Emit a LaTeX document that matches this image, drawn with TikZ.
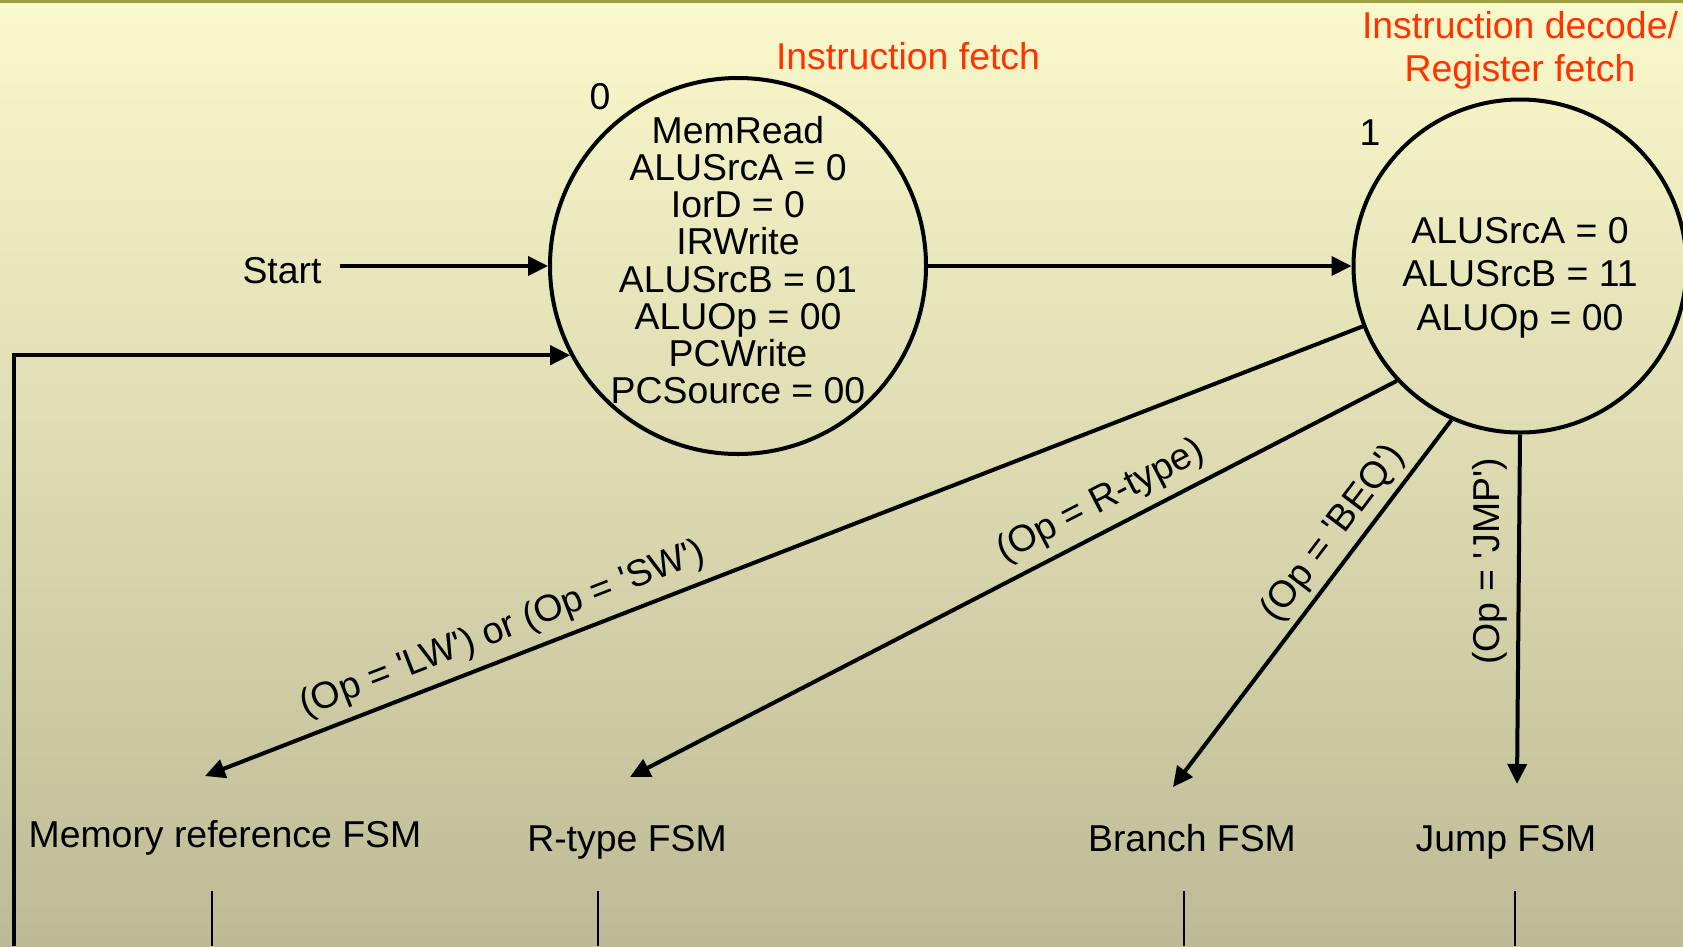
\documentclass[tikz,border=0pt]{standalone}
\usepackage{fontspec}
\setmainfont{Liberation Sans}
\usetikzlibrary{arrows.meta,positioning,calc}
\definecolor{bgtop}{RGB}{250,249,203}
\definecolor{bgbot}{RGB}{188,187,150}
\definecolor{ruleline}{RGB}{158,158,62}
\definecolor{phasered}{RGB}{255,51,0}
\newcommand{\apos}{\textquotesingle}

\begin{document}
\begin{tikzpicture}[
  x=1pt, y=-1pt,
  font=\fontsize{37.4}{37.2}\selectfont,
  state/.style={circle, draw, line width=4pt, align=center, inner sep=-9pt},
  txt/.style={inner sep=0pt, outer sep=0pt},
  phase/.style={txt, text=phasered, align=center},
  cond/.style={txt, sloped},
  arrow/.style={-{Triangle[length=20pt,width=19pt]}, line width=4pt},
  stub/.style={line width=2.5pt},
]
  \useasboundingbox (0,0) rectangle (1683,946);
  \shade[top color=bgtop, bottom color=bgbot] (0,0) rectangle (1683,946);
  \draw[ruleline, line width=3pt] (0,1.5) -- (1683,1.5);

  % states
  \node[state, minimum size=376pt] (st0) at (738,266)
    {MemRead\\ALUSrcA = 0\\IorD = 0\\IRWrite\\ALUSrcB = 01\\ALUOp = 00\\PCWrite\\PCSource = 00\rule[-12pt]{0pt}{0pt}};
  \node[state, minimum size=333pt, font=\fontsize{37.4}{43.5}\selectfont] (st1) at (1520,266)
    {\rule{0pt}{49pt}ALUSrcA = 0\\ALUSrcB = 11\\ALUOp = 00};
  \node[txt] (num0) at (600,97) {0};
  \node[txt] (num1) at (1370,133) {1};

  \node[phase] (fetch) at (908,56) {Instruction fetch};
  \node[phase, font=\fontsize{37.4}{43}\selectfont] (decode) at (1520,50)
    {Instruction decode/\\Register fetch};

  \node[txt, anchor=base] (start) at (282,283) {Start};

  % sub-machines
  \node[txt, anchor=base] (memfsm) at (225,847) {Memory reference FSM};
  \node[txt, anchor=base] (rfsm) at (627,851) {R-type FSM};
  \node[txt, anchor=base] (brfsm) at (1192,851) {Branch FSM};
  \node[txt, anchor=base] (jfsm) at (1506,851) {Jump FSM};

  \coordinate (memin) at (205,776);
  \coordinate (rin) at (630,777);
  \coordinate (brin) at (1173,787);
  \coordinate (jin) at (1517,784);
  \coordinate (back) at (14,946);
  \foreach \n/\x in {memout/212, rout/598, brout/1184, jout/1515}
    \coordinate (\n) at (\x,946);

  \draw[arrow] ([xshift=19pt]start.east |- st0.west) -- (st0.west);
  \draw[arrow] (back) |- (st0.208);
  \draw[arrow] (st0.east) -- (st1.west);

  \draw[arrow] (st1.201) -- node[cond, above=11pt, pos=0.734] (lwsw)
    {(Op = \apos LW\apos) or (Op = \apos SW\apos)} (memin);
  \draw[arrow] (st1.223.5) -- node[cond, above=11pt, pos=0.369] (rlab)
    {(Op = R-type)} (rin);
  \draw[arrow] (st1.246.5) -- node[cond, above=8pt, pos=0.352] (beqlab)
    {(Op = \apos BEQ\apos)} (brin);
  \draw[arrow] (st1.south) -- node[txt, rotate=90, anchor=south, inner sep=12pt, pos=0.363] (jmplab)
    {(Op = \apos JMP\apos)} (jin);

  \foreach \c in {memout, rout, brout, jout}
    \draw[stub] (\c) -- ++(0,-55);
\end{tikzpicture}
\end{document}
